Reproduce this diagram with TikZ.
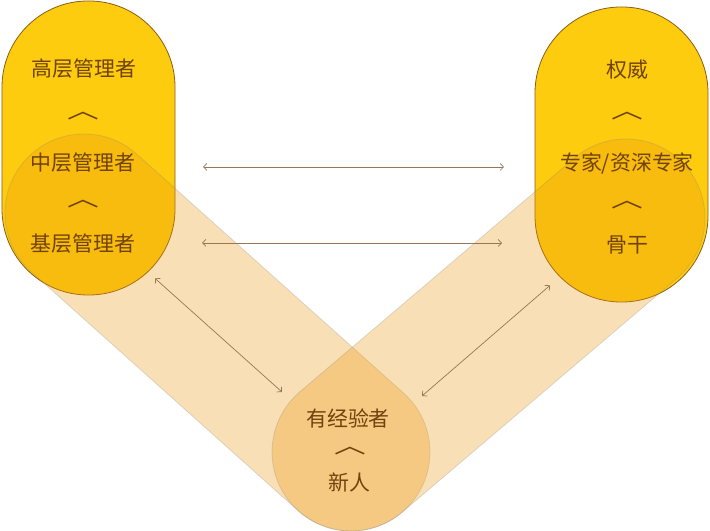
\documentclass[tikz,border=0pt]{standalone}
\usepackage{fontspec}
\usepackage{graphicx}
\setmainfont{Noto Sans CJK SC}
\usetikzlibrary{calc,arrows.meta}
\definecolor{pillgold}{RGB}{253,204,14}
\definecolor{pilledge}{RGB}{139,94,20}
\definecolor{bandorange}{RGB}{236,153,15}
\definecolor{labelbrown}{RGB}{112,66,12}
\definecolor{linkbrown}{RGB}{150,118,86}
\newcommand{\stepmark}[1]{\scalebox{1.45}[1]{#1}}
\tikzset{
  pill/.style={draw=pilledge,fill=pillgold,line width=0.8bp,minimum width=173bp,rounded corners=86bp,inner sep=0pt},
  band/.style={fill=bandorange,fill opacity=0.31,draw=black!50,draw opacity=0.25,line width=0.8bp},
  level/.style={text=labelbrown,font=\fontsize{21}{25}\selectfont,inner sep=0pt},
  hat/.style={level,font=\fontsize{22}{24}\selectfont},
  link/.style={{Straight Barb[length=3.5bp,width=7bp]}-{Straight Barb[length=3.5bp,width=7bp]},draw=linkbrown,line width=0.7bp},
}

\begin{document}
\begin{tikzpicture}[x=1bp,y=1bp]
\useasboundingbox (0,0) rectangle (710,531);

\draw node [pill,minimum height=294bp](mgrpill) at (88.5,383){};
\draw node [pill,minimum height=295bp](exppill) at (621.5,376.5){};

\coordinate (mgrend) at (84,318);
\coordinate (expend) at (626,313);
\coordinate (newend) at (351,79);

\path[band] let \p1=($(newend)-(mgrend)$), \n1={atan2(\y1,\x1)} in
  ($(mgrend)+(\n1+90:79)$) arc[start angle=\n1+90,end angle=\n1+270,radius=79]
  -- ($(newend)+(\n1-90:79)$) arc[start angle=\n1-90,end angle=\n1+90,radius=79] -- cycle;
\path[band] let \p1=($(newend)-(expend)$), \n1={atan2(\y1,\x1)} in
  ($(expend)+(\n1-90:79)$) arc[start angle=\n1-90,end angle=\n1-270,radius=79]
  -- ($(newend)+(\n1+90:79)$) arc[start angle=\n1+90,end angle=\n1-90,radius=79] -- cycle;

\draw node [level](mgrtop) at (84,462){高层管理者};
\draw node [hat](mgrhat1) at (83,415){\stepmark{︿}};
\draw node [level](mgrmid) at (83,368){中层管理者};
\draw node [hat](mgrhat2) at (83,327){\stepmark{︿}};
\draw node [level](mgrlow) at (83,287){基层管理者};

\draw node [level](exptop) at (627,461){权威};
\draw node [hat](exphat1) at (627,415){\stepmark{︿}};
\draw node [level](expmid) at (627,367){专家/资深专家};
\draw node [hat](exphat2) at (627,326){\stepmark{︿}};
\draw node [level](explow) at (627,286){骨干};

\draw node [level](newtop) at (348,113){有经验者};
\draw node [hat](newhat) at (350,80){\stepmark{︿}};
\draw node [level](newlow) at (349,49){新人};

\coordinate (a1) at ($(mgrmid)+(120,-4)$);
\coordinate (b1) at ($(expmid)+(-123,-3)$);
\coordinate (a2) at ($(mgrlow)+(119,1)$);
\coordinate (b2) at ($(explow)+(-125,2)$);
\coordinate (a3) at ($(mgrpill.south)+(66.5,17)$);
\coordinate (b3) at ($(newtop)+(-66,26)$);
\coordinate (a4) at ($(exppill.south)+(-71.5,17)$);
\coordinate (b4) at ($(newtop)+(74,22)$);

\draw[link] (a1) -- (b1);
\draw[link] (a2) -- (b2);
\draw[link] (a3) -- (b3);
\draw[link] (a4) -- (b4);

\end{tikzpicture}
\end{document}
